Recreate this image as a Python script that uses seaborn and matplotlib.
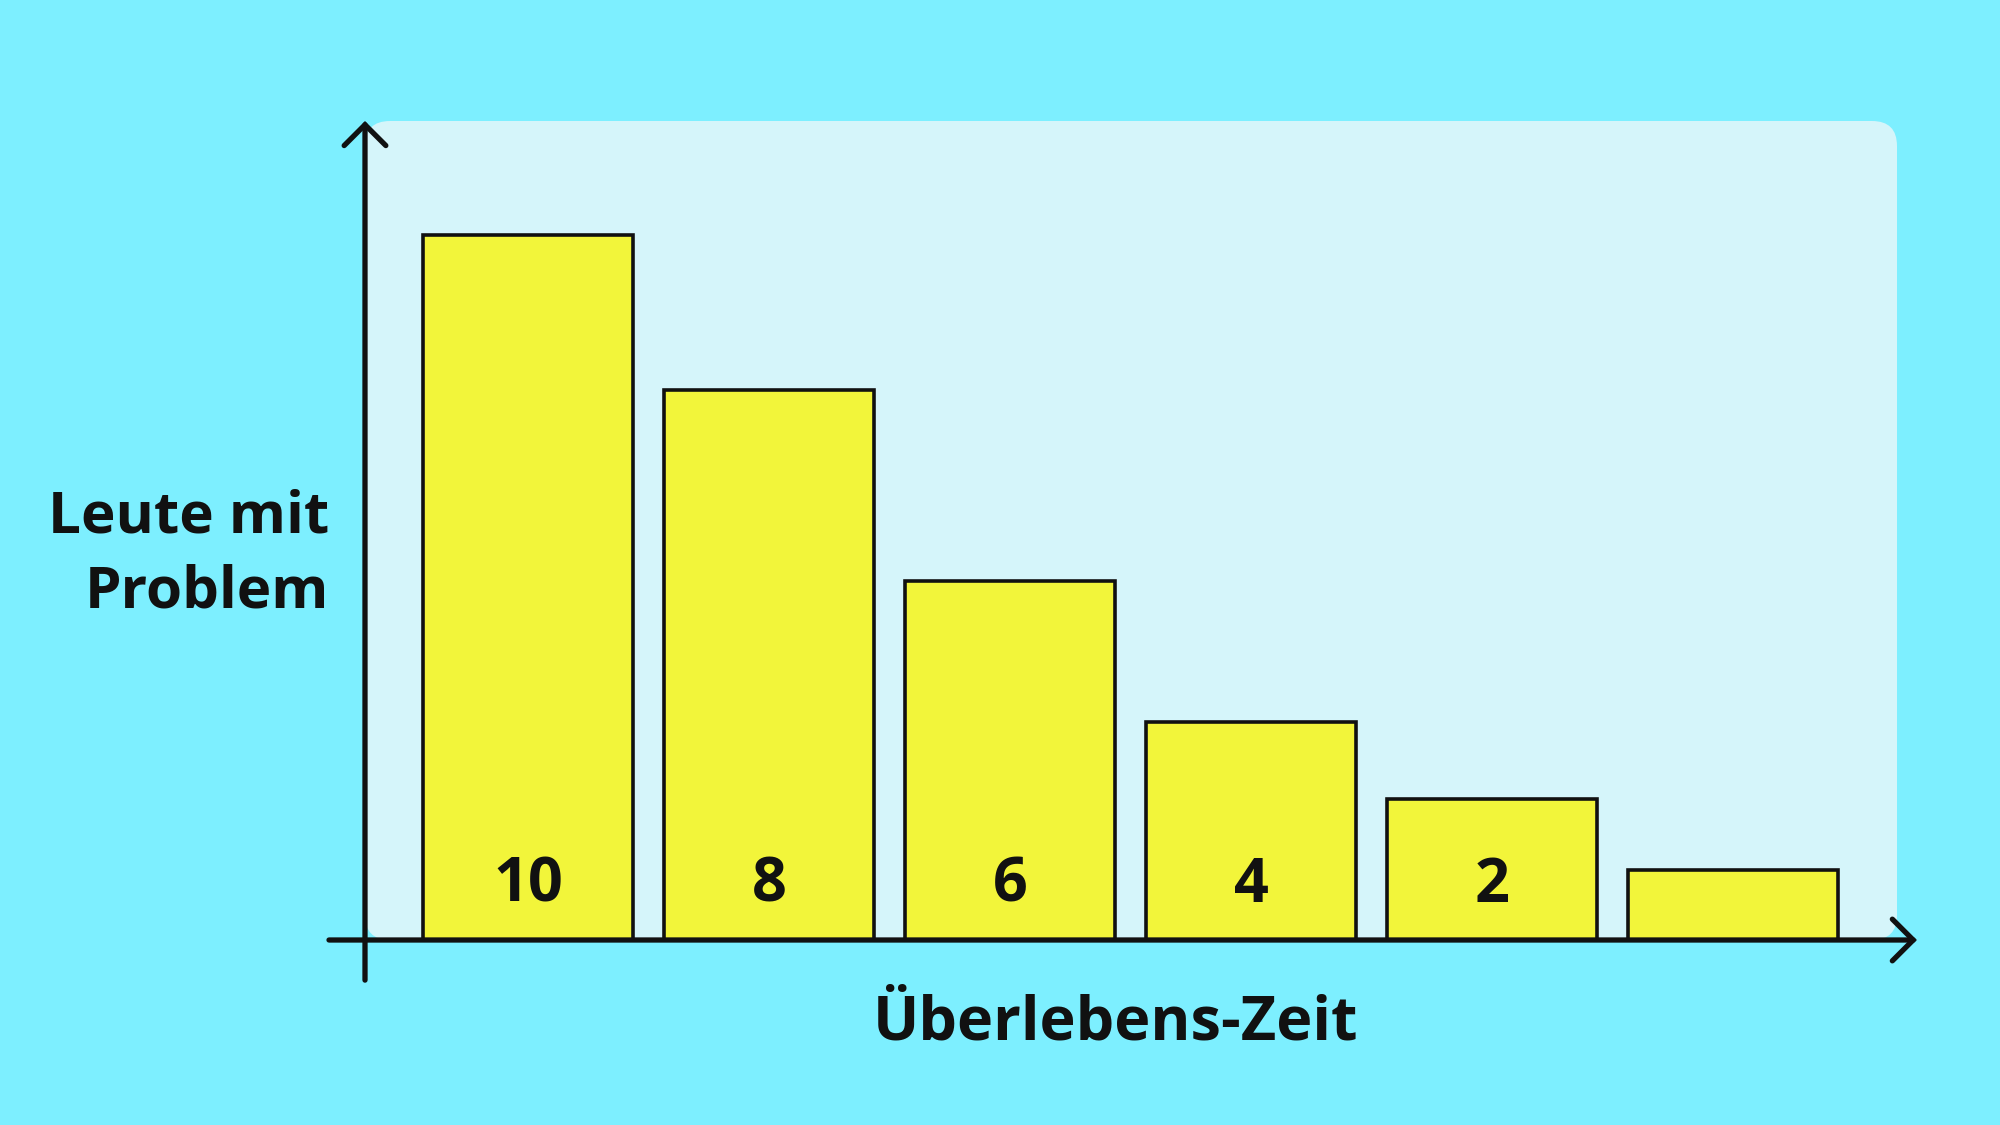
#import libraries
import numpy as np
import pandas as pd
import matplotlib.pyplot as plt
from matplotlib.patches import FancyBboxPatch
import seaborn as sns

#data (bar heights in relative units, label inside each bar)
zeit_bins = ['a', 'b', 'c', 'd', 'e', 'f']
leute = [100, 78, 51, 31, 20, 10]
bar_labels = ['10', '8', '6', '4', '2', '']

df = pd.DataFrame({'bin': zeit_bins, 'leute': leute})

#colours
bg_color = '#7DEFFF'
panel_color = '#D5F5FA'
bar_color = '#F2F53A'
ink = '#111111'

sns.set_style('white')
plt.rcParams['font.family'] = ['Open Sans', 'DejaVu Sans']

fig = plt.figure(figsize=(20, 11.25), dpi=100)
fig.patch.set_facecolor(bg_color)

#axes covers the light panel (pixels 365..1897 x 121..940)
ax = fig.add_axes([365/2000, 185/1125, 1532/2000, 819/1125])
ax.set_facecolor('none')

#rounded light panel behind the bars
panel = FancyBboxPatch((0, 0), 1, 1, boxstyle='round,pad=0,rounding_size=0.0163',
                       mutation_aspect=1532/819, transform=ax.transAxes,
                       facecolor=panel_color, edgecolor='none', zorder=0)
ax.add_patch(panel)

sns.barplot(data=df, x='bin', y='leute', order=zeit_bins, color=bar_color,
            edgecolor=ink, linewidth=2.6, width=0.868, saturation=1, ax=ax, zorder=2)

ax.set_xlim(-0.676, 5.68)
ax.set_ylim(0, 116.2)

#numbers inside the bars
for i, lab in enumerate(bar_labels):
    ax.text(i, 7.6, lab, ha='center', va='center', fontsize=44, fontweight='bold',
            color=ink, zorder=3)

#remove default axis decorations
for s in ax.spines.values():
    s.set_visible(False)
ax.set_xticks([])
ax.set_yticks([])
ax.set_xlabel('')
ax.set_ylabel('')

#axis arrows
arrow_kw = dict(arrowstyle='->,head_length=1.5,head_width=1.5', lw=3.8, color=ink,
                shrinkA=0, shrinkB=0, joinstyle='miter')
ax.annotate('', xy=(0, 1.0), xytext=(0, -0.049), xycoords='axes fraction',
            arrowprops=arrow_kw, annotation_clip=False, zorder=4)
ax.annotate('', xy=(1.013, 0), xytext=(-0.0235, 0), xycoords='axes fraction',
            arrowprops=arrow_kw, annotation_clip=False, zorder=4)

#axis titles
ax.text(-0.0235, 0.47, 'Leute mit\nProblem', transform=ax.transAxes, ha='right', va='center',
        multialignment='right', fontsize=42, fontweight='bold', linespacing=1.4, color=ink)
ax.text(0.4896, -0.103, 'Überlebens-Zeit', transform=ax.transAxes, ha='center', va='center',
        fontsize=44, fontweight='bold', color=ink)

fig.savefig('out.png', dpi=100, facecolor=bg_color)
